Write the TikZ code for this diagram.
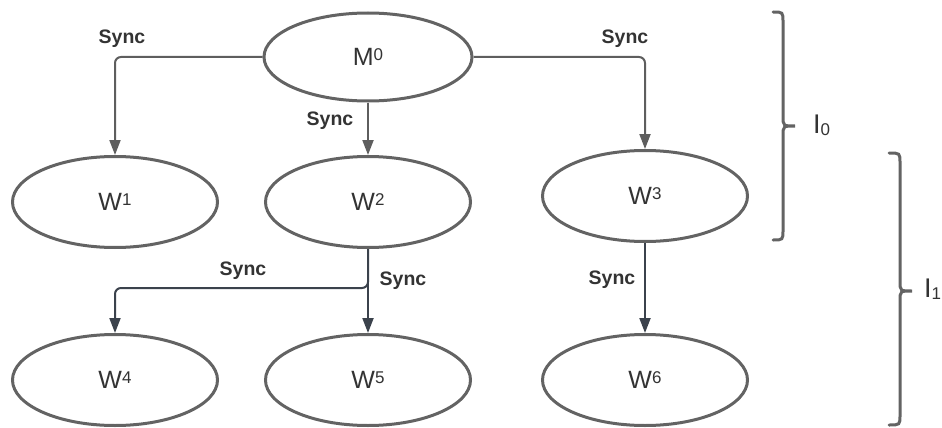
\documentclass[tikz,border=0pt]{standalone}
\usepackage{fontspec}
\setmainfont{Liberation Sans}
\usetikzlibrary{shapes.geometric,arrows.meta}

\definecolor{strokegray}{HTML}{636363}
\definecolor{edgegray}{HTML}{5E5E5E}
\definecolor{edgedark}{HTML}{3B424C}
\definecolor{txt}{HTML}{333333}

\tikzset{
  worker/.style={ellipse, draw=strokegray, line width=3pt, inner sep=0pt,
    minimum width=205pt, minimum height=91pt, text=txt,
    font=\fontsize{25}{25}\selectfont},
  link/.style={line width=2pt, rounded corners=6pt,
    -{Triangle[length=15pt,width=11pt]}},
  upper/.style={link, draw=edgegray, color=edgegray},
  lower/.style={link, draw=edgedark, color=edgedark},
  synclbl/.style={anchor=base, text=txt, inner sep=0pt,
    font=\fontsize{19.5}{19.5}\selectfont\bfseries},
  bracepath/.style={draw=strokegray, line width=3pt, line cap=round},
  levellbl/.style={anchor=base west, text=txt, inner sep=0pt,
    font=\fontsize{27}{27}\selectfont}
}

\newcommand{\supnum}[1]{\raisebox{5pt}{\fontsize{17}{17}\selectfont #1}}
\newcommand{\subnum}[1]{\raisebox{-2pt}{\fontsize{17}{17}\selectfont #1}}

\begin{document}
\begin{tikzpicture}[x=1pt,y=-1pt]
\useasboundingbox (0,0) rectangle (942,428);

% nodes
\node[worker, minimum width=208pt, minimum height=88pt] (M0) at (368,57) {M\supnum{0}};
\node[worker] (W1) at (115,202) {W\supnum{1}};
\node[worker] (W2) at (368,202) {W\supnum{2}};
\node[worker] (W3) at (645,196) {W\supnum{3}};
\node[worker] (W4) at (115,380) {W\supnum{4}};
\node[worker] (W5) at (368,380) {W\supnum{5}};
\node[worker] (W6) at (645,380) {W\supnum{6}};

% synchronisation links
\draw[upper] (M0.west) -| (W1.north);
\draw[upper] (M0.south) -- (W2.north);
\draw[upper] (M0.east) -| (W3.north);
\coordinate (split) at (368,288);
\draw[lower] (W2.south) -- (split) -| (W4.north);
\draw[lower] (W2.south) -- (W5.north);
\draw[lower] (W3.south) -- (W6.north);

% link labels
\node[synclbl] (s1) at (122,44) {Sync};
\node[synclbl] (s2) at (625,44) {Sync};
\node[synclbl] (s3) at (330,125) {Sync};
\node[synclbl] (s4) at (243,275) {Sync};
\node[synclbl] (s5) at (403,285) {Sync};
\node[synclbl] (s6) at (612,284) {Sync};

% level braces
\draw[bracepath] (773,12) .. controls (783,12) .. (783,22) -- (783,116)
  .. controls (783,126) .. (795,126) .. controls (783,126) .. (783,136)
  -- (783,230) .. controls (783,240) .. (773,240);
\draw[bracepath] (889,153) .. controls (900,153) .. (900,163) -- (900,281)
  .. controls (900,291) .. (912,291) .. controls (900,291) .. (900,301)
  -- (900,415) .. controls (900,425) .. (889,425);

\node[levellbl] (l0) at (813,133) {I\subnum{0}};
\node[levellbl] (l1) at (924,297) {I\subnum{1}};
\end{tikzpicture}
\end{document}
